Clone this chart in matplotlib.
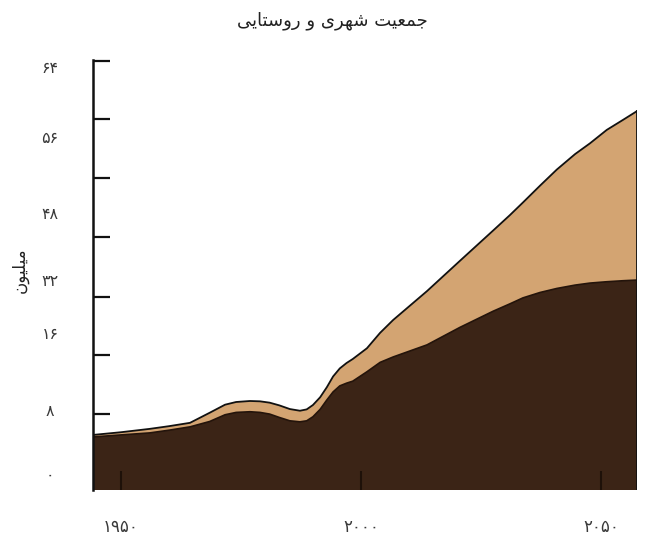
import numpy as np
import matplotlib
matplotlib.use("Agg")
import matplotlib.pyplot as plt

plt.rcParams['font.family'] = ['DejaVu Sans']

# total population (top curve) and rural/bottom layer
years = [1944.2, 1950.0, 1956.0, 1960.0, 1964.4, 1968.5, 1971.7, 1974.0, 1976.9,
         1979.0, 1981.0, 1983.0, 1985.2, 1987.3, 1988.7, 1990.0, 1991.5, 1992.9,
         1994.2, 1995.6, 1997.0, 1998.3, 2001.25, 2004.0, 2006.7, 2013.75,
         2020.6, 2027.5, 2031.0, 2033.75, 2037.3, 2040.8, 2044.6, 2047.7,
         2051.2, 2054.6, 2057.5]
total = [8.2, 8.6, 9.1, 9.5, 10.0, 11.5, 12.7, 13.1, 13.25,
         13.2, 13.0, 12.6, 12.05, 11.8, 12.0, 12.65, 13.8, 15.3,
         16.9, 18.1, 18.9, 19.5, 21.1, 23.4, 25.3, 29.6,
         34.1, 38.6, 40.9, 42.8, 45.3, 47.7, 50.0, 51.6,
         53.6, 55.1, 56.4]
rural = [7.9, 8.2, 8.5, 8.9, 9.4, 10.2, 11.2, 11.55, 11.65,
         11.55, 11.3, 10.8, 10.3, 10.15, 10.3, 10.9, 12.0, 13.4,
         14.6, 15.5, 15.9, 16.2, 17.6, 19.0, 19.8, 21.6,
         24.2, 26.6, 27.7, 28.6, 29.4, 30.0, 30.5, 30.8,
         31.0, 31.15, 31.25]

xtick_years = [1950, 2000, 2050]
xtick_labels = ['۱۹۵۰', '۲۰۰۰', '۲۰۵۰']
ytick_marks = [63.9, 55.2, 46.5, 37.7, 28.8, 20.1, 11.3]
ylabel_pos = [63.0, 52.6, 41.2, 31.25, 23.3, 11.9, 2.5]
ylabel_text = ['۶۴', '۵۶', '۴۸', '۳۲', '۱۶', '۸', '۰']

title_text = 'جمعیت شهری و روستایی'
yaxis_text = 'میلیون'

# --- minimal arabic shaping (matplotlib has no complex text layout) ---
FORMS = {  # iso, fin, ini, med
    'ا': ('\uFE8D', '\uFE8E', None, None),
    'ت': ('\uFE95', '\uFE96', '\uFE97', '\uFE98'),
    'ج': ('\uFE9D', '\uFE9E', '\uFE9F', '\uFEA0'),
    'ر': ('\uFEAD', '\uFEAE', None, None),
    'س': ('\uFEB1', '\uFEB2', '\uFEB3', '\uFEB4'),
    'ش': ('\uFEB5', '\uFEB6', '\uFEB7', '\uFEB8'),
    'ع': ('\uFEC9', '\uFECA', '\uFECB', '\uFECC'),
    'ل': ('\uFEDD', '\uFEDE', '\uFEDF', '\uFEE0'),
    'م': ('\uFEE1', '\uFEE2', '\uFEE3', '\uFEE4'),
    'ن': ('\uFEE5', '\uFEE6', '\uFEE7', '\uFEE8'),
    'ه': ('\uFEE9', '\uFEEA', '\uFEEB', '\uFEEC'),
    'و': ('\uFEED', '\uFEEE', None, None),
    'ی': ('\uFBFC', '\uFBFD', '\uFBFE', '\uFBFF'),
}

def dual(c):
    return c in FORMS and FORMS[c][2] is not None

def shape(s):
    out = []
    for i, c in enumerate(s):
        if c not in FORMS:
            out.append(c)
            continue
        prev = s[i - 1] if i > 0 else ''
        nxt = s[i + 1] if i + 1 < len(s) else ''
        jp = dual(prev)
        jn = dual(c) and nxt in FORMS
        f = FORMS[c]
        if jp and jn:
            out.append(f[3])
        elif jp:
            out.append(f[1])
        elif jn:
            out.append(f[2])
        else:
            out.append(f[0])
    return ''.join(out[::-1])

dark = '#3b2416'
tan = '#d3a472'

fig = plt.figure(figsize=(6.45, 5.36), dpi=100)
ax = fig.add_axes([0.1442, 0.0858, 0.8434, 0.8022])

ax.fill_between(years, 0, total, facecolor=tan, edgecolor='none')
ax.fill_between(years, 0, rural, facecolor=dark, edgecolor='none')
ax.plot(years, total, color='#111111', lw=1.3)
ax.plot(years, rural, color='#24140b', lw=1.2)
ax.plot([years[-1], years[-1]], [0, total[-1]], color='#111111', lw=1.3)

ax.set_xlim(years[0], years[-1])
ax.set_ylim(0, 64)

for s in ['top', 'right', 'bottom']:
    ax.spines[s].set_visible(False)
ax.spines['left'].set_linewidth(1.8)
ax.spines['left'].set_color('#111111')

# tick marks (no labels) and labels at their own heights
ax.set_yticks(ytick_marks)
ax.set_yticklabels([])
ax.tick_params(axis='y', which='major', direction='in', length=12, width=1.6, color='#111111')
ax.set_yticks(ylabel_pos, minor=True)
ax.set_yticklabels(ylabel_text, minor=True, fontsize=11.5, color='#3a3a3a')
ax.tick_params(axis='y', which='minor', length=0, pad=31)
for t in ax.get_yticklabels(minor=True):
    t.set_horizontalalignment('center')

ax.set_xticks(xtick_years)
ax.set_xticklabels(xtick_labels, fontsize=12, color='#3a3a3a')
ax.tick_params(axis='x', direction='in', length=14, width=1.5, color='#1e1109', pad=20)

fig.text(0.515, 0.962, shape(title_text), ha='center', va='center', fontsize=13, color='#222222')
fig.text(0.031, 0.496, shape(yaxis_text), ha='center', va='center', rotation=90,
         fontsize=12, color='#222222')

fig.savefig('out.png', dpi=100)
